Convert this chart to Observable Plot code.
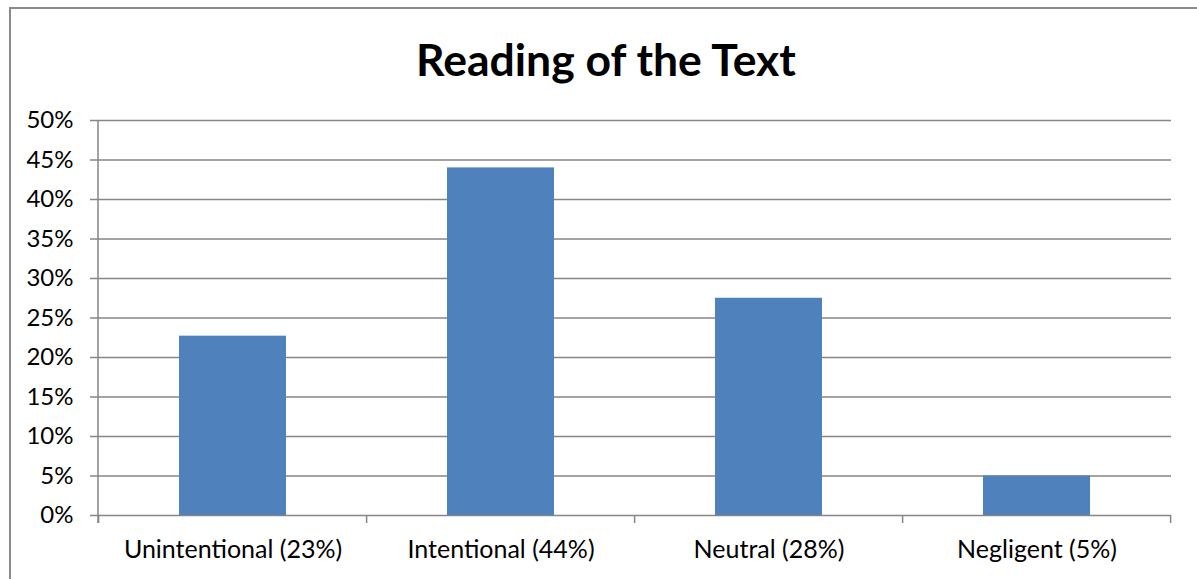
<!DOCTYPE html>
<html>
<head>
<meta charset="utf-8">
<script src="https://cdn.jsdelivr.net/npm/d3@7"></script>
<script src="https://cdn.jsdelivr.net/npm/@observablehq/plot@0.6"></script>
<style>
  html, body { margin: 0; padding: 0; background: #fff; }
  body { width: 1197px; height: 579px; position: relative; overflow: hidden; font-family: Lato, "Open Sans", sans-serif; }
  #frame { position: absolute; left: 9px; top: 7px; width: 1200px; height: 600px; border-top: 2px solid #8a8a8a; border-left: 2px solid #8a8a8a; }
  #title { position: absolute; left: 0; top: 32px; width: 1212px; text-align: center; font-size: 44.5px; font-weight: bold; color: #000; line-height: 54px; }
  #chart { position: absolute; left: 0; top: 100px; }
</style>
</head>
<body>
<div id="frame"></div>
<div id="title">Reading of the Text</div>
<div id="chart"></div>
<script>
const categories = ["Unintentional (23%)", "Intentional (44%)", "Neutral (28%)", "Negligent (5%)"];
const values = [0.227, 0.44, 0.275, 0.05];
const yTicks = [0, 0.05, 0.10, 0.15, 0.20, 0.25, 0.30, 0.35, 0.40, 0.45, 0.50];

const data = categories.map((c, i) => ({category: c, value: values[i]}));
const grey = "#868686";

function boundaryTicks(index, scales, values, dimensions) {
  const x = scales.x, y = scales.y;
  const step = x.step();
  const outer = 0.3 * step;
  const y0 = y(0);
  const g = d3.create("svg:g").attr("stroke", grey).attr("stroke-width", 1.5);
  const xs = categories.map(c => x(c) - outer);
  xs.push(x(categories[categories.length - 1]) - outer + step);
  for (const xv of xs) {
    g.append("line").attr("x1", xv).attr("x2", xv).attr("y1", y0).attr("y2", y0 + 8);
  }
  g.append("line").attr("x1", dimensions.marginLeft).attr("x2", dimensions.marginLeft)
    .attr("y1", y(0.5)).attr("y2", y0 + 8);
  return g.node();
}

const chart = Plot.plot({
  width: 1197,
  height: 479,
  marginTop: 20,
  marginBottom: 64,
  marginLeft: 98,
  marginRight: 26,
  style: {fontFamily: "Lato, 'Open Sans', sans-serif", color: "#000", background: "transparent"},
  x: {domain: categories, paddingInner: 0.6, paddingOuter: 0.3, label: null},
  y: {domain: [0, 0.5], label: null},
  marks: [
    Plot.ruleY(yTicks, {stroke: grey, strokeWidth: 1.5, strokeOpacity: 1}),
    Plot.barY(data, {x: "category", y: "value", fill: "#4F81BD"}),
    Plot.axisY({ticks: yTicks, tickFormat: d => Math.round(d * 100) + "%", tickSize: 8, tickPadding: 17, fontSize: 24, stroke: grey, strokeWidth: 1.5, strokeOpacity: 1, label: null}),
    Plot.axisX({tickSize: 0, tickPadding: 25, fontSize: 25, label: null}),
    boundaryTicks
  ]
});
document.getElementById("chart").append(chart);
</script>
</body>
</html>
